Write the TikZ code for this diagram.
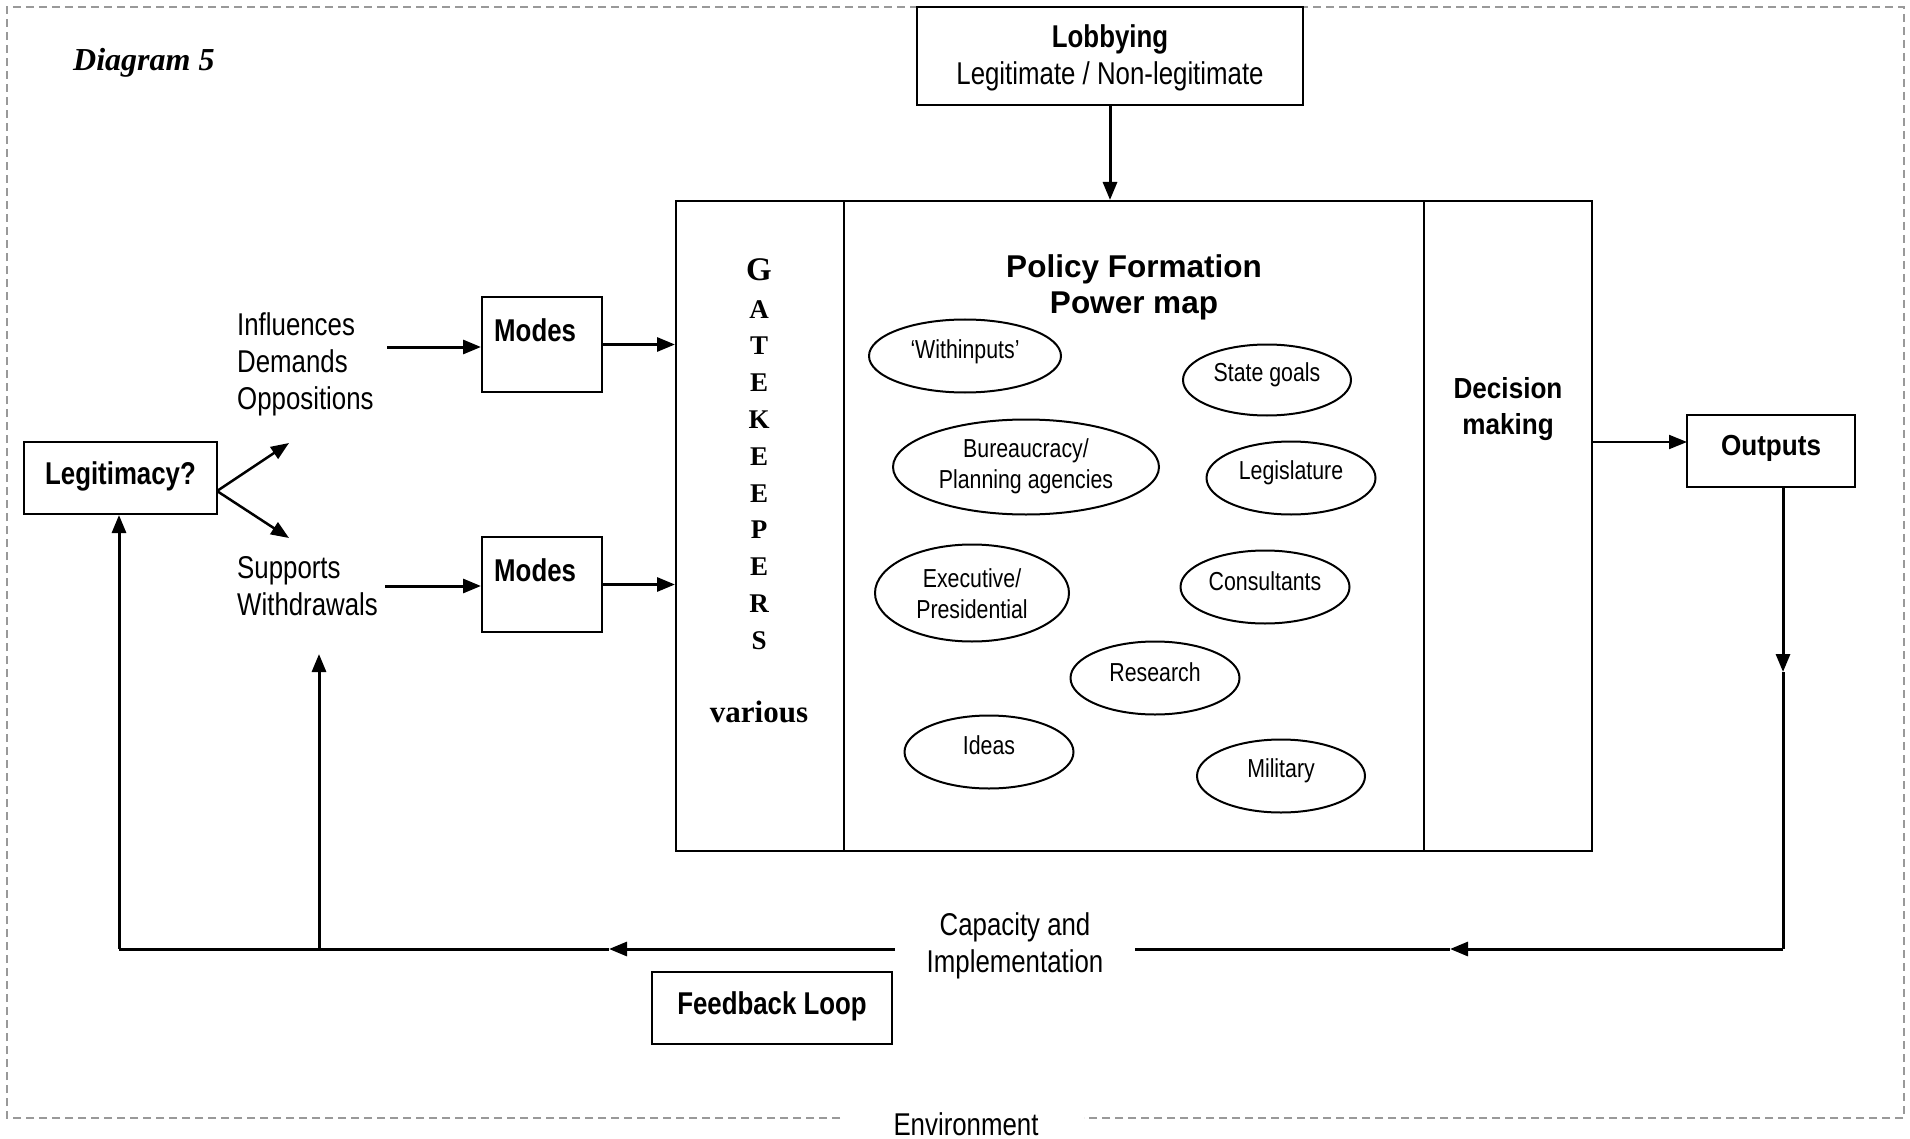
\documentclass[tikz,border=0pt]{standalone}
\usepackage{fontspec}
\setmainfont{Liberation Sans}
\newfontfamily\nar[FakeStretch=0.82]{Liberation Sans}
\newfontfamily\semi[FakeStretch=0.9]{Liberation Sans}
\newfontfamily\tnr{Liberation Serif}
\usetikzlibrary{arrows.meta,shapes.geometric}
\begin{document}
\begin{tikzpicture}[x=1pt,y=-1pt,
  box/.style={draw, line width=2pt, rectangle, inner sep=0pt},
  ell/.style={draw, line width=2pt, ellipse, inner sep=0pt},
  ln/.style={line width=3pt},
  arr/.style={line width=3pt, -{Triangle[length=18pt,width=14pt]}},
  tshift/.style={yshift=-2.5pt},
  txt/.style={font=\nar\fontsize{31.5}{37}\selectfont, inner sep=0pt, align=left, tshift},
  ctxt/.style={font=\nar\fontsize{31.5}{37}\selectfont, inner sep=0pt, align=center, tshift},
  btxt/.style={font=\nar\bfseries\fontsize{31.5}{37}\selectfont, inner sep=0pt, align=center, tshift},
  dtxt/.style={font=\semi\bfseries\fontsize{29}{36}\selectfont, inner sep=0pt, align=center, tshift},
  ptxt/.style={font=\bfseries\fontsize{31.5}{36}\selectfont, inner sep=0pt, align=center, tshift},
  etxt/.style={font=\nar\fontsize{26}{31.5}\selectfont, inner sep=0pt, align=center, tshift},
  gk/.style={font=\tnr\bfseries\fontsize{27}{30}\selectfont, inner sep=0pt, tshift},
  env/.style={draw=black!40, line width=2pt, dash pattern=on 8pt off 5pt}
]
\useasboundingbox (0,0) rectangle (1910,1139);
\fill[white] (0,0) rectangle (1910,1139);

% environment border
\coordinate (envL) at (840,1118);
\coordinate (envR) at (1084,1118);
\draw[env] (envL) -- (7,1118) -- (7,7) -- (1904,7) -- (1904,1118) -- (envR);
\node[ctxt] (envt) at (966,1122) {Environment};

% title
\node[font=\tnr\bfseries\itshape\fontsize{32}{38}\selectfont, anchor=west, inner sep=0pt, tshift] (title) at (73,60) {Diagram 5};

% lobbying
\node[box, minimum width=386pt, minimum height=98pt, fill=white] (lob) at (1110,56) {};
\node[btxt] (lobt1) at (1110,37) {Lobbying};
\node[ctxt] (lobt2) at (1110,74) {Legitimate / Non-legitimate};

% main box
\node[box, minimum width=168pt, minimum height=650pt] (gate) at (760,526) {};
\node[box, minimum width=580pt, minimum height=650pt] (pol) at (1134,526) {};
\node[box, minimum width=168pt, minimum height=650pt] (dec) at (1508,526) {};

% gatekeepers letters
\node[gk, font=\tnr\bfseries\fontsize{33}{36}\selectfont] (g1) at (759,267) {G};
\node[gk] (g2) at (759,307) {A};
\node[gk] (g3) at (759,343) {T};
\node[gk] (g4) at (759,380) {E};
\node[gk] (g5) at (759,417) {K};
\node[gk] (g6) at (759,454) {E};
\node[gk] (g7) at (759,491) {E};
\node[gk] (g8) at (759,527) {P};
\node[gk] (g9) at (759,564) {E};
\node[gk] (g10) at (759,601) {R};
\node[gk] (g11) at (759,638) {S};
\node[gk, font=\tnr\bfseries\fontsize{31}{36}\selectfont] (various) at (759,709) {various};

% policy formation
\node[ptxt] (polt) at (1134,285) {Policy Formation\\Power map};

% ellipses
\node[ell, minimum width=192pt, minimum height=73pt] (wi) at (965,356) {};
\node[etxt] (wit) at (965,349) {‘Withinputs’};
\node[ell, minimum width=168pt, minimum height=71pt] (sg) at (1267,380) {};
\node[etxt] (sgt) at (1267,372) {State goals};
\node[ell, minimum width=266pt, minimum height=95pt] (bu) at (1026,467) {};
\node[etxt] (but) at (1026,464) {Bureaucracy/\\Planning agencies};
\node[ell, minimum width=169pt, minimum height=73pt] (le) at (1291,478) {};
\node[etxt] (let) at (1291,470) {Legislature};
\node[ell, minimum width=194pt, minimum height=97pt] (ex) at (972,593) {};
\node[etxt] (ext) at (972,591) {Executive/\\Presidential};
\node[ell, minimum width=169pt, minimum height=73pt] (co) at (1265,587) {};
\node[etxt] (cot) at (1265,579) {Consultants};
\node[ell, minimum width=169pt, minimum height=73pt] (re) at (1155,678) {};
\node[etxt] (ret) at (1155,670) {Research};
\node[ell, minimum width=169pt, minimum height=73pt] (id) at (989,752) {};
\node[etxt] (idt) at (989,743) {Ideas};
\node[ell, minimum width=168pt, minimum height=73pt] (mi) at (1281,776) {};
\node[etxt] (mit) at (1281,768) {Military};

% decision making
\node[dtxt] (dect) at (1508,407) {Decision\\making};

% outputs
\node[box, minimum width=168pt, minimum height=72pt] (out) at (1771,451) {};
\node[dtxt] (outt) at (1771,446) {Outputs};

% legitimacy
\node[box, minimum width=193pt, minimum height=72pt] (leg) at (120.5,478) {};
\node[btxt] (legt) at (120.5,474) {Legitimacy?};

% inputs text
\node[txt, anchor=west] (infl) at (237,362) {Influences\\Demands\\Oppositions};
\node[txt, anchor=west] (supp) at (237,583.5) {Supports\\Withdrawals};

% modes boxes
\node[box, minimum width=120pt, minimum height=95pt] (m1) at (542,344.5) {};
\node[btxt, anchor=west] (m1t) at (494,328) {Modes};
\node[box, minimum width=120pt, minimum height=95pt] (m2) at (542,584.5) {};
\node[btxt, anchor=west] (m2t) at (494,568) {Modes};

% feedback loop
\node[box, minimum width=240pt, minimum height=72pt] (fb) at (772,1008) {};
\node[btxt] (fbt) at (772,1004) {Feedback Loop};

% capacity text
\node[ctxt] (cap) at (1015,943) {Capacity and\\Implementation};

% coordinates
\coordinate (i1) at (387,347);
\coordinate (s1) at (385,586);
\coordinate (ls) at (217,491);
\coordinate (lu) at (289,443);
\coordinate (ld) at (289,538);
\coordinate (o1) at (1783,672);
\coordinate (br) at (1783,949);
\coordinate (a1) at (1450,949);
\coordinate (capR) at (1135,949);
\coordinate (capL) at (895,949);
\coordinate (a2) at (609,949);
\coordinate (bl) at (119,949);
\coordinate (bm) at (319,949);
\coordinate (up2) at (319,654);
\coordinate (dout) at (1687,442);

% connectors
\draw[arr] (i1) -- (i1 -| m1.west);
\draw[arr] (s1) -- (s1 -| m2.west);
\draw[arr] (m1.east) -- (m1.east -| gate.west);
\draw[arr] (m2.east) -- (m2.east -| gate.west);
\draw[arr] (lob.south) -- (lob.south |- pol.north);
\draw[arr, line width=2pt] (dout -| dec.east) -- (dout);
\draw[arr, line width=2.5pt] (ls) -- (lu);
\draw[arr, line width=2.5pt] (ls) -- (ld);
\draw[arr] (out.south -| o1) -- (o1);
\draw[ln] (o1) -- (br);
\draw[arr] (br) -- (a1);
\draw[ln] (a1) -- (capR);
\draw[arr] (capL) -- (a2);
\draw[ln] (a2) -- (bl);
\draw[arr] (bl) -- (bl |- leg.south);
\draw[arr] (bm) -- (up2);
\end{tikzpicture}
\end{document}
